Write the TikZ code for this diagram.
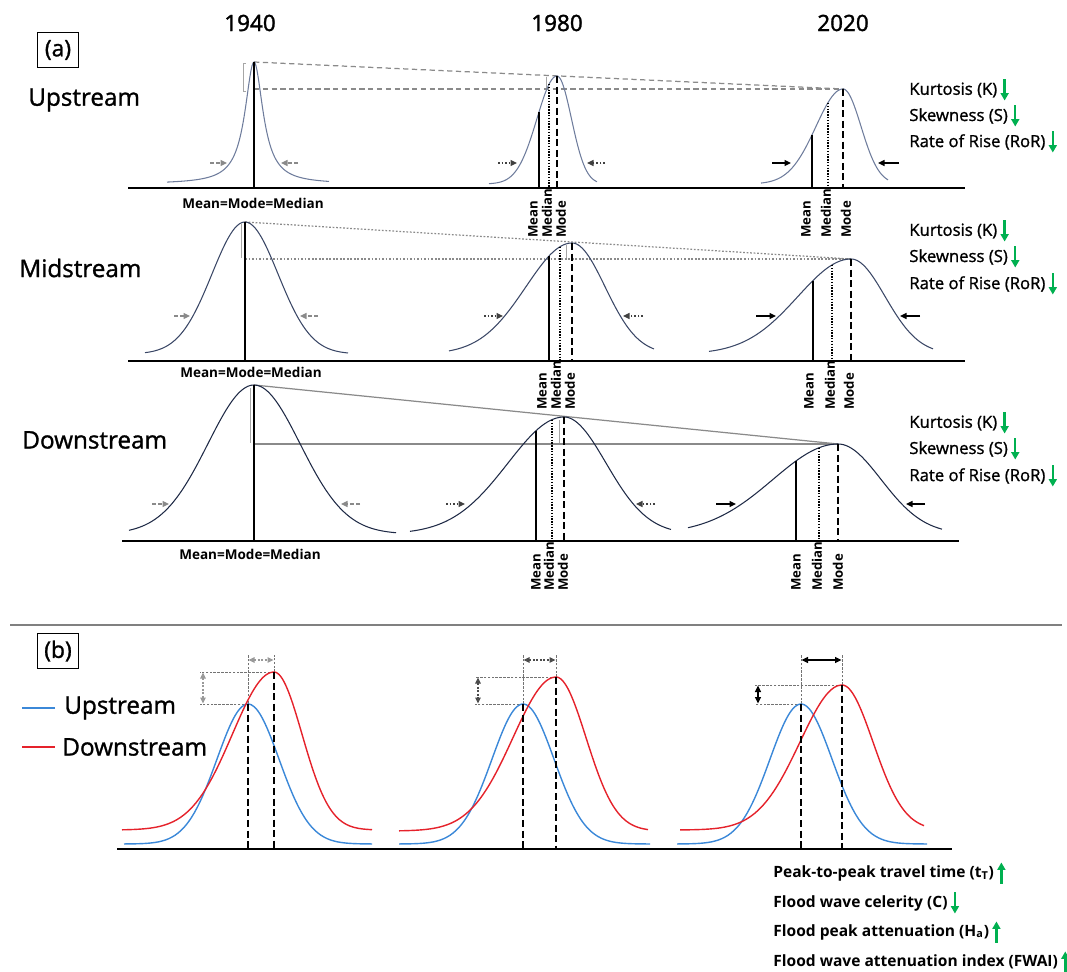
\documentclass[tikz,border=0pt]{standalone}
\usepackage{fontspec}
\setmainfont{Open Sans}
\newfontfamily\medfont{Open Sans}[FakeBold=1.2]
\newfontfamily\yearfont{Noto Sans}[FakeBold=1.2]
\usetikzlibrary{arrows.meta}
\definecolor{slateu}{HTML}{6E7C9C}
\definecolor{slatem}{HTML}{3A4766}
\definecolor{slated}{HTML}{1F2A46}
\definecolor{upblue}{HTML}{3B88D8}
\definecolor{dnred}{HTML}{E5222B}
\definecolor{green}{HTML}{00B050}
\definecolor{guidegray}{HTML}{8A8A8A}
% hump: style, peak x, tail level, height, left sd, right sd, from, to
\newcommand{\hump}[8]{\draw[#1] plot[smooth,domain=#7:#2,samples=40] (\x,{#3-#4*exp(-0.5*((\x-#2)/#5)^2)}) -- plot[smooth,domain=#2:#8,samples=40] (\x,{#3-#4*exp(-0.5*((\x-#2)/#6)^2)});}

\begin{document}
\begin{tikzpicture}[x=0.02cm,y=-0.02cm,every node/.style={inner sep=0pt},
year/.style={font=\yearfont\fontsize{12.8}{15}\selectfont},
reach/.style={anchor=west,font=\medfont\fontsize{13.8}{16}\selectfont},
stat/.style={anchor=west,font=\medfont\fontsize{9.5}{11}\selectfont},
eqlab/.style={font=\bfseries\fontsize{7.7}{9}\selectfont},
vlab/.style={anchor=west,rotate=90,font=\bfseries\fontsize{7.5}{9}\selectfont},
note/.style={anchor=west,font=\bfseries\fontsize{8.85}{10}\selectfont},
tag/.style={draw,line width=0.7pt,minimum width=0.82cm,minimum height=0.70cm,font=\medfont\fontsize{13}{15}\selectfont},
baseln/.style={line width=1.6pt},
curveu/.style={slateu,line width=0.6pt},curvem/.style={slatem,line width=0.6pt},curved/.style={slated,line width=0.6pt},
meanln/.style={line width=0.8pt},
medln/.style={line width=0.8pt,dash pattern=on 0.8pt off 0.8pt},
modeln/.style={line width=0.9pt,dash pattern=on 4pt off 2pt},
dashline/.style={guidegray,line width=0.7pt,dash pattern=on 3pt off 2pt},
dotline/.style={guidegray,line width=0.7pt,dash pattern=on 1pt off 1pt},
fullline/.style={guidegray,line width=0.7pt},
tick/.style={black!35,line width=0.5pt},
tipgray/.style={guidegray,line width=0.7pt,dash pattern=on 2pt off 1.5pt,-{Triangle[length=1.3mm,width=1.2mm]}},
tipdot/.style={black!75,line width=0.7pt,dash pattern=on 1pt off 1pt,-{Triangle[length=1.3mm,width=1.2mm]}},
tipfull/.style={black,line width=0.8pt,-{Triangle[length=1.3mm,width=1.2mm]}},
garr/.style={green,line width=1.4pt,-{Triangle[length=1.5mm,width=1.6mm]}},
ublue/.style={upblue,line width=0.8pt},dred/.style={dnred,line width=0.8pt},
bguide/.style={black!55,line width=0.5pt,dash pattern=on 1.5pt off 0.7pt},
twin1/.style={black!40,line width=0.6pt,dash pattern=on 1pt off 1pt,{Triangle[length=1.2mm,width=1.1mm]}-{Triangle[length=1.2mm,width=1.1mm]}},
twin2/.style={black!70,line width=0.6pt,dash pattern=on 1pt off 1pt,{Triangle[length=1.2mm,width=1.1mm]}-{Triangle[length=1.2mm,width=1.1mm]}},
twin3/.style={black,line width=0.8pt,{Triangle[length=1.3mm,width=1.2mm]}-{Triangle[length=1.3mm,width=1.2mm]}},
sepln/.style={black!50,line width=1.7pt}]
\useasboundingbox (0,0) rectangle (1067,972);
% panel (a)
\node[tag] (taga) at (58,50) {(a)};
\node[year] (y40) at (250,23) {1940};
\node[year] (y80) at (557,23) {1980};
\node[year] (y20) at (843,23) {2020};
\node[reach] (up) at (28,100) {Upstream};
\node[reach] (mid) at (19,268) {Midstream};
\node[reach] (down) at (22,440) {Downstream};
% upstream
\draw[dashline] (254,62) -- (843,89); \draw[dashline] (254,89) -- (843,89);
\draw[tick] (246,63) -- (243,63) -- (243,91) -- (246,91); \draw[tick] (546,77) -- (546,88);
\draw[curveu] plot[domain=167:329,samples=163] (\x,{184-122/(1+((\x-254)/11)^2)});
\hump{curveu}{557}{184}{108}{20}{14.4}{489}{597}
\hump{curveu}{843}{184}{95}{27}{18}{761}{888}
\draw[meanln] (254,62) -- (254,188);
\draw[meanln] (539,112) -- (539,188); \draw[medln] (549,84) -- (549,188); \draw[modeln] (557,76) -- (557,188);
\draw[meanln] (812,135) -- (812,188); \draw[medln] (828,103) -- (828,188); \draw[modeln] (843,89) -- (843,188);
\draw[tipgray] (210,163) -- (227,163); \draw[tipgray] (298,163) -- (281,163);
\draw[tipdot] (498,163) -- (517,163); \draw[tipdot] (605,163) -- (587,163);
\draw[tipfull] (772,163) -- (791,163); \draw[tipfull] (899,163) -- (878,163);
\draw[baseln] (128,188) -- (965,188);
\node[eqlab] (ueq) at (253,203) {Mean=Mode=Median};
\node[vlab] (u8a) at (533,238) {Mean}; \node[vlab] (u8b) at (547,238) {Median}; \node[vlab] (u8c) at (561,238) {Mode};
\node[vlab] (u2a) at (806,238) {Mean}; \node[vlab] (u2b) at (826,238) {Median}; \node[vlab] (u2c) at (846,238) {Mode};
\node[stat] (uk) at (909,90) {Kurtosis (K)}; \node[stat] (us) at (909,116) {Skewness (S)}; \node[stat] (ur) at (909,142) {Rate of Rise (RoR)};
\draw[garr] ([xshift=4pt,yshift=6pt]uk.east) -- ([xshift=4pt,yshift=-6pt]uk.east);
\draw[garr] ([xshift=4pt,yshift=6pt]us.east) -- ([xshift=4pt,yshift=-6pt]us.east);
\draw[garr] ([xshift=4pt,yshift=6pt]ur.east) -- ([xshift=4pt,yshift=-6pt]ur.east);
% midstream
\draw[dotline] (245,222) -- (851,259); \draw[dotline] (245,259) -- (851,259);
\draw[tick] (241,224) -- (241,258); \draw[tick] (566,245) -- (566,258);
\hump{curvem}{245}{354}{132}{33}{33}{145}{348}
\hump{curvem}{572}{354}{111}{46}{33}{449}{654}
\hump{curvem}{851}{354}{95}{53}{34}{709}{933}
\draw[meanln] (245,222) -- (245,361);
\draw[meanln] (549,256) -- (549,361); \draw[medln] (560,247) -- (560,361); \draw[modeln] (572,243) -- (572,361);
\draw[meanln] (813,281) -- (813,361); \draw[medln] (832,265) -- (832,361); \draw[modeln] (851,259) -- (851,361);
\draw[tipgray] (174,316) -- (190,316); \draw[tipgray] (318,316) -- (300,316);
\draw[tipdot] (484,316) -- (503,316); \draw[tipdot] (643,316) -- (623,316);
\draw[tipfull] (756,316) -- (776,316); \draw[tipfull] (920,316) -- (900,316);
\draw[baseln] (128,361) -- (965,361);
\node[eqlab] (meq) at (251,372) {Mean=Mode=Median};
\node[vlab] (m8a) at (542,410) {Mean}; \node[vlab] (m8b) at (556,410) {Median}; \node[vlab] (m8c) at (570,410) {Mode};
\node[vlab] (m2a) at (809,410) {Mean}; \node[vlab] (m2b) at (830,410) {Median}; \node[vlab] (m2c) at (849,410) {Mode};
\node[stat] (mk) at (909,231) {Kurtosis (K)}; \node[stat] (ms) at (909,257) {Skewness (S)}; \node[stat] (mr) at (909,284) {Rate of Rise (RoR)};
\draw[garr] ([xshift=4pt,yshift=6pt]mk.east) -- ([xshift=4pt,yshift=-6pt]mk.east);
\draw[garr] ([xshift=4pt,yshift=6pt]ms.east) -- ([xshift=4pt,yshift=-6pt]ms.east);
\draw[garr] ([xshift=4pt,yshift=6pt]mr.east) -- ([xshift=4pt,yshift=-6pt]mr.east);
% downstream
\draw[fullline] (254,385) -- (838,444); \draw[fullline] (254,444) -- (838,444);
\draw[tick] (250,388) -- (250,443); \draw[tick] (559,420) -- (559,443);
\hump{curved}{254}{534}{149}{46}{46}{129}{396}
\hump{curved}{564}{534}{117}{56}{42}{410}{671}
\hump{curved}{838}{534}{90}{65}{43}{688}{942}
\draw[meanln] (254,385) -- (254,541);
\draw[meanln] (536,431) -- (536,541); \draw[medln] (552,420) -- (552,541); \draw[modeln] (564,417) -- (564,541);
\draw[meanln] (796,461) -- (796,541); \draw[medln] (819,448) -- (819,541); \draw[modeln] (838,444) -- (838,541);
\draw[tipgray] (152,504) -- (169,504); \draw[tipgray] (360,504) -- (341,504);
\draw[tipdot] (446,504) -- (465,504); \draw[tipdot] (655,504) -- (636,504);
\draw[tipfull] (716,504) -- (736,504); \draw[tipfull] (925,504) -- (906,504);
\draw[baseln] (122,541) -- (959,541);
\node[eqlab] (deq) at (250,554) {Mean=Mode=Median};
\node[vlab] (d8a) at (536,591) {Mean}; \node[vlab] (d8b) at (549,591) {Median}; \node[vlab] (d8c) at (563,591) {Mode};
\node[vlab] (d2a) at (796,591) {Mean}; \node[vlab] (d2b) at (817,591) {Median}; \node[vlab] (d2c) at (838,591) {Mode};
\node[stat] (dk) at (909,423) {Kurtosis (K)}; \node[stat] (ds) at (909,449) {Skewness (S)}; \node[stat] (dr) at (909,476) {Rate of Rise (RoR)};
\draw[garr] ([xshift=4pt,yshift=6pt]dk.east) -- ([xshift=4pt,yshift=-6pt]dk.east);
\draw[garr] ([xshift=4pt,yshift=6pt]ds.east) -- ([xshift=4pt,yshift=-6pt]ds.east);
\draw[garr] ([xshift=4pt,yshift=6pt]dr.east) -- ([xshift=4pt,yshift=-6pt]dr.east);
\draw[sepln] (10,625) -- (1062,625);
% panel (b)
\node[tag] (tagb) at (58,651) {(b)};
\node[reach] (lu) at (64,708) {Upstream};
\node[reach] (ld) at (62,747) {Downstream};
\draw[ublue,line width=1pt] ([xshift=-5pt]lu.west) -- ++(-33,0);
\draw[dred,line width=1pt] ([xshift=-4pt]ld.west) -- ++(-33,0);
\draw[bguide] (248,704) -- (248,655); \draw[bguide] (274,672) -- (274,655);
\draw[bguide] (274,672) -- (200,672); \draw[bguide] (248,704) -- (200,704);
\draw[twin1] (248.5,660) -- (273.5,660); \draw[twin1] (203,672.5) -- (203,703.5);
\draw[bguide] (523,704) -- (523,655); \draw[bguide] (556,677) -- (556,655);
\draw[bguide] (556,677) -- (475,677); \draw[bguide] (523,704) -- (475,704);
\draw[twin2] (523.5,660) -- (555.5,660); \draw[twin2] (478,677.5) -- (478,703.5);
\draw[bguide] (801,704) -- (801,655); \draw[bguide] (842,685) -- (842,655);
\draw[bguide] (842,685) -- (755,685); \draw[bguide] (801,704) -- (755,704);
\draw[twin3] (801.5,660) -- (841.5,660); \draw[twin3] (758,685.5) -- (758,703.5);
\hump{ublue}{248}{844}{140}{31}{31}{124}{372}
\hump{dred}{274}{830}{158}{41.6}{28}{122}{372}
\hump{ublue}{523}{844}{140}{31}{31}{399}{650}
\hump{dred}{556}{831}{154}{43}{30}{399}{648}
\hump{ublue}{801}{844}{140}{31}{31}{677}{927}
\hump{dred}{842}{830}{145}{42}{31}{680}{924}
\draw[modeln] (248,704) -- (248,849); \draw[modeln] (274,672) -- (274,849);
\draw[modeln] (523,704) -- (523,849); \draw[modeln] (556,677) -- (556,849);
\draw[modeln] (801,704) -- (801,849); \draw[modeln] (842,685) -- (842,849);
\draw[baseln] (117,849) -- (952,849);
\node[note] (tt) at (773,873) {Peak-to-peak travel time (t\textsubscript{T})};
\node[note] (cel) at (773,903) {Flood wave celerity (C)};
\node[note] (ha) at (773,932) {Flood peak attenuation (H\textsubscript{a})};
\node[note] (fw) at (773,962) {Flood wave attenuation index (FWAI)};
\draw[garr] ([xshift=4pt,yshift=-6pt]tt.east) -- ([xshift=4pt,yshift=6pt]tt.east);
\draw[garr] ([xshift=4pt,yshift=6pt]cel.east) -- ([xshift=4pt,yshift=-6pt]cel.east);
\draw[garr] ([xshift=4pt,yshift=-6pt]ha.east) -- ([xshift=4pt,yshift=6pt]ha.east);
\draw[garr] ([xshift=4pt,yshift=-6pt]fw.east) -- ([xshift=4pt,yshift=6pt]fw.east);
\end{tikzpicture}
\end{document}
